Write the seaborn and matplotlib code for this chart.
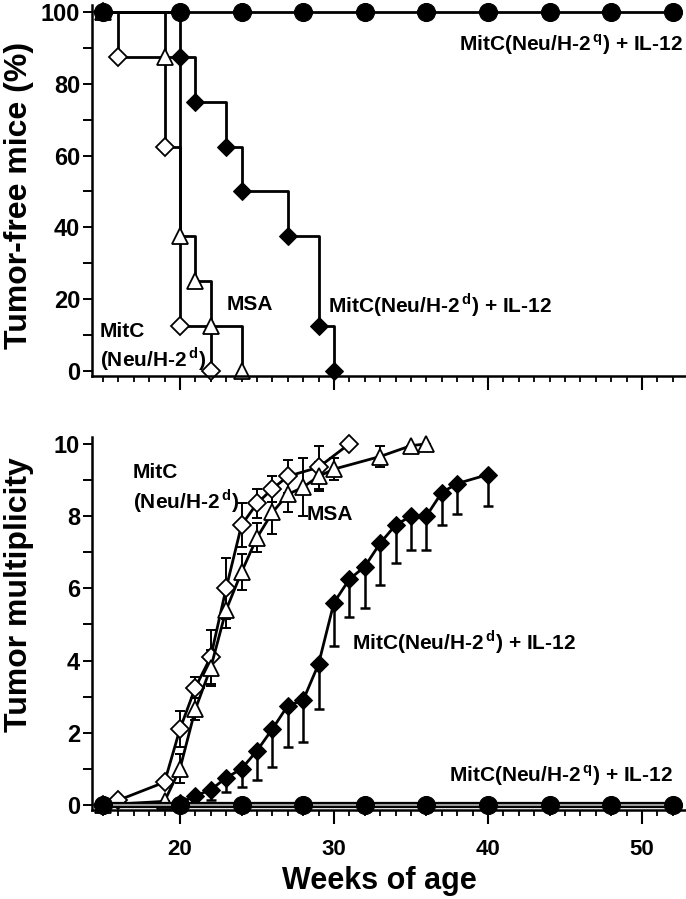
import matplotlib
matplotlib.use("Agg")
import matplotlib.pyplot as plt
from matplotlib.ticker import MultipleLocator
import seaborn as sns
import pandas as pd

# Top panel: tumor-free mice (%), Kaplan-Meier steps
ctrl_weeks = [15, 16, 19, 20, 22]
ctrl_free = [100, 87.5, 62.5, 12.5, 0]
msa_weeks = [15, 19, 20, 21, 22, 24]
msa_free = [100, 87.5, 37.5, 25, 12.5, 0]
il12d_weeks = [15, 20, 21, 23, 24, 27, 29, 30]
il12d_free = [100, 87.5, 75, 62.5, 50, 37.5, 12.5, 0]
il12q_weeks = [15, 20, 24, 28, 32, 36, 40, 44, 48, 52]
il12q_free = [100, 100, 100, 100, 100, 100, 100, 100, 100, 100]

# Bottom panel: tumor multiplicity
ctrl_mult_weeks = [15, 16, 19, 20, 21, 22, 23, 24, 25, 26, 27, 29, 31]
ctrl_mult = [0, 0.13, 0.63, 2.1, 3.25, 4.1, 6.0, 7.75, 8.35, 8.75, 9.1, 9.35, 10.0]
ctrl_err = [0, 0, 0.1, 0.5, 0.3, 0.75, 0.85, 0.6, 0.4, 0.35, 0.45, 0.6, 0]
msa_mult_weeks = [15, 19, 20, 21, 22, 23, 24, 25, 26, 27, 28, 29, 30, 33, 35, 36]
msa_mult = [0, 0.1, 1.0, 2.65, 3.8, 5.4, 6.45, 7.4, 8.1, 8.6, 8.8, 9.1, 9.3, 9.65, 9.95, 10.0]
msa_err = [0, 0, 0.4, 0.3, 0.5, 0.5, 0.5, 0.4, 0.6, 0.5, 0.8, 0.4, 0.3, 0.3, 0, 0]
il12d_mult_weeks = [15, 20, 21, 22, 23, 24, 25, 26, 27, 28, 29, 30, 31, 32, 33, 34, 35, 36, 37, 38, 40]
il12d_mult = [0, 0.05, 0.25, 0.42, 0.75, 1.0, 1.5, 2.1, 2.75, 2.9, 3.9, 5.6, 6.25, 6.6, 7.25, 7.75,
              8.0, 8.0, 8.65, 8.9, 9.15]
il12d_err_low = [0, 0, 0, 0.28, 0.4, 0.5, 0.8, 1.05, 1.15, 1.15, 1.25, 1.2, 1.05, 1.15, 1.15, 1.05,
                 0.95, 0.95, 0.9, 0.85, 0.87]
il12q_mult = [0, 0, 0, 0, 0, 0, 0, 0, 0, 0]

# tick labels
week_ticks = [20, 30, 40, 50]
free_ticks = [0, 20, 40, 60, 80, 100]
mult_ticks = [0, 2, 4, 6, 8, 10]

sns.set_style("ticks")
plt.rcParams['font.family'] = ['Liberation Sans', 'DejaVu Sans']
plt.rcParams['font.weight'] = 'bold'
plt.rcParams['text.color'] = 'black'
plt.rcParams['xtick.color'] = 'black'
plt.rcParams['ytick.color'] = 'black'
plt.rcParams['axes.edgecolor'] = 'black'
plt.rcParams['mathtext.fontset'] = 'custom'
plt.rcParams['mathtext.rm'] = 'Liberation Sans:bold'
plt.rcParams['mathtext.bf'] = 'Liberation Sans:bold'

fig = plt.figure(figsize=(6.86, 8.99), dpi=100)
ax1 = fig.add_axes([0.1341, 0.5817, 0.8659, 0.4127])
ax2 = fig.add_axes([0.1341, 0.0990, 0.8659, 0.4149])

LW = 2.0
open_d = dict(marker='D', markersize=9, markerfacecolor='white', markeredgecolor='black',
              markeredgewidth=1.3, color='black', linewidth=LW)
open_t = dict(marker='^', markersize=11, markerfacecolor='white', markeredgecolor='black',
              markeredgewidth=1.3, color='black', linewidth=LW)
fill_d = dict(marker='D', markersize=9.5, markerfacecolor='black', markeredgecolor='black',
              color='black', linewidth=LW)
fill_c = dict(marker='o', markersize=13, markerfacecolor='black', markeredgecolor='black',
              color='black', linewidth=LW)

# ---- top panel ----
top_series = [
    (ctrl_weeks, ctrl_free, open_d),
    (msa_weeks, msa_free, open_t),
    (il12d_weeks, il12d_free, fill_d),
    (il12q_weeks, il12q_free, fill_c),
]
for xs, ys, style in top_series:
    df = pd.DataFrame({"week": xs, "free": ys})
    sns.lineplot(data=df, x="week", y="free", ax=ax1, drawstyle='steps-post',
                 errorbar=None, clip_on=False, **style)

ax1.set_xlim(14.29, 52.86)
ax1.set_ylim(-1.4, 101.9)
ax1.set_yticks(free_ticks)
ax1.set_yticklabels([str(t) for t in free_ticks], fontweight='bold')
ax1.yaxis.set_minor_locator(MultipleLocator(10))
ax1.set_xticks(week_ticks)
ax1.set_xticklabels([])
ax1.set_xlabel("")
ax1.set_ylabel("")

FS = 15
ax1.text(52.66, 90.8, r"MitC(Neu/H-2$^{\,\mathbf{q}}$) + IL-12", ha='right', va='center',
         fontsize=FS, fontweight='bold')
ax1.text(14.8, 11.0, "MitC", ha='left', va='center', fontsize=FS, fontweight='bold')
ax1.text(14.8, 3.3, r"(Neu/H-2$^{\,\mathbf{d}}$)", ha='left', va='center', fontsize=FS, fontweight='bold')
ax1.text(23.05, 18.4, "MSA", ha='left', va='center', fontsize=FS, fontweight='bold')
ax1.text(29.6, 18.4, r"MitC(Neu/H-2$^{\,\mathbf{d}}$) + IL-12", ha='left', va='center',
         fontsize=FS, fontweight='bold')

# ---- bottom panel ----
ax2.errorbar(ctrl_mult_weeks, ctrl_mult, yerr=ctrl_err, fmt='none', ecolor='black',
             elinewidth=1.4, capsize=3.5, capthick=1.4, zorder=1)
ax2.errorbar(msa_mult_weeks, msa_mult, yerr=msa_err, fmt='none', ecolor='black',
             elinewidth=1.4, capsize=3.5, capthick=1.4, zorder=1)
ax2.errorbar(il12d_mult_weeks, il12d_mult, yerr=[il12d_err_low, [0] * len(il12d_err_low)],
             fmt='none', ecolor='black', elinewidth=1.8, capsize=3.5, capthick=1.8, zorder=1)

bottom_series = [
    (ctrl_mult_weeks, ctrl_mult, open_d),
    (msa_mult_weeks, msa_mult, open_t),
    (il12d_mult_weeks, il12d_mult, fill_d),
]
for xs, ys, style in bottom_series:
    df = pd.DataFrame({"week": xs, "mult": ys})
    sns.lineplot(data=df, x="week", y="mult", ax=ax2, errorbar=None, clip_on=False, **style)

# zero line for the H-2q group: thick black with a grey core
dfq = pd.DataFrame({"week": il12q_weeks, "mult": il12q_mult})
sns.lineplot(data=dfq, x="week", y="mult", ax=ax2, errorbar=None, color='black',
             linewidth=4.5, clip_on=False)
sns.lineplot(data=dfq, x="week", y="mult", ax=ax2, errorbar=None, color='#9a9a9a',
             linewidth=1.5, clip_on=False)
sns.lineplot(data=dfq, x="week", y="mult", ax=ax2, errorbar=None, linestyle='none',
             clip_on=False, **{k: v for k, v in fill_c.items() if k != 'linewidth'})

ax2.set_xlim(14.29, 52.86)
ax2.set_ylim(-0.14, 10.19)
ax2.set_yticks(mult_ticks)
ax2.set_yticklabels([str(t) for t in mult_ticks], fontweight='bold')
ax2.yaxis.set_minor_locator(MultipleLocator(1))
ax2.set_xticks(week_ticks)
ax2.set_xticklabels([str(t) for t in week_ticks], fontweight='bold')
ax2.set_xlabel("")
ax2.set_ylabel("")

ax2.text(16.95, 9.2, "MitC", ha='left', va='center', fontsize=FS, fontweight='bold')
ax2.text(16.95, 8.42, r"(Neu/H-2$^{\,\mathbf{d}}$)", ha='left', va='center', fontsize=FS, fontweight='bold')
ax2.text(28.25, 8.03, "MSA", ha='left', va='center', fontsize=FS, fontweight='bold')
ax2.text(31.17, 4.5, r"MitC(Neu/H-2$^{\,\mathbf{d}}$) + IL-12", ha='left', va='center',
         fontsize=FS, fontweight='bold')
ax2.text(52.0, 0.8, r"MitC(Neu/H-2$^{\,\mathbf{q}}$) + IL-12", ha='right', va='center',
         fontsize=FS, fontweight='bold')

for ax in (ax1, ax2):
    sns.despine(ax=ax)
    ax.spines['left'].set_linewidth(1.8)
    ax.spines['bottom'].set_linewidth(1.8)
    ax.xaxis.set_minor_locator(MultipleLocator(1))
    ax.tick_params(axis='x', which='major', length=10, width=1.5, pad=11, labelsize=16, direction='out')
    ax.tick_params(axis='x', which='minor', length=4.5, width=1.3, direction='out')
    ax.tick_params(axis='y', which='both', length=6.5, width=1.4, pad=2, labelsize=17, direction='out')

fig.text(19 / 686, 1 - 195 / 899, "Tumor-free mice (%)", rotation=90, ha='center', va='center',
         fontsize=23, fontweight='bold')
fig.text(19 / 686, 1 - 595 / 899, "Tumor multiplicity", rotation=90, ha='center', va='center',
         fontsize=23, fontweight='bold')
fig.text(379 / 686, 1 - 881 / 899, "Weeks of age", ha='center', va='center',
         fontsize=22, fontweight='bold')

fig.savefig("out.png", dpi=100)
